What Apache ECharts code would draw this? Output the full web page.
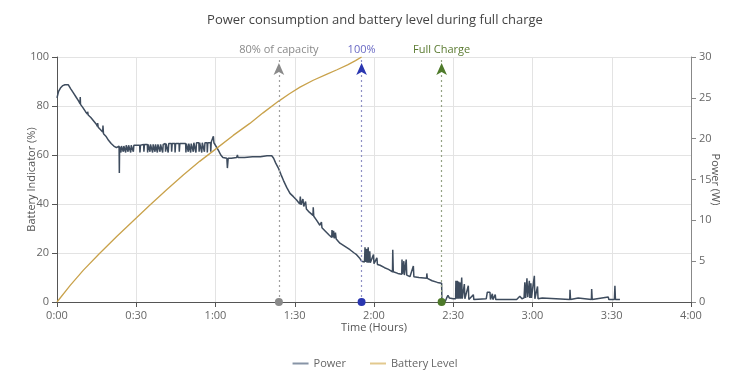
<!DOCTYPE html>
<html>
<head>
<meta charset="utf-8">
<script src="https://cdn.jsdelivr.net/npm/echarts@6/dist/echarts.min.js"></script>
<style>html,body{margin:0;padding:0;background:#fff}#c{width:750px;height:392px}</style>
</head>
<body>
<div id="c"></div>
<script>
// ---- data (x in minutes since start) ----
const xTickLabels = ['0:00','0:30','1:00','1:30','2:00','2:30','3:00','3:30','4:00'];

const batteryTime  = [0, 5, 10, 16, 22.6, 29, 35.2, 41.5, 47.8, 54, 60.4, 66.7, 73, 78, 83.8, 88, 92, 97, 102, 106, 110, 113, 115.3];
const batteryLevel = [0, 6.8, 13, 19.7, 26.7, 33.3, 39.6, 45.8, 51.8, 57.4, 62.7, 68, 72.9, 77.2, 81.9, 85.0, 87.7, 90.5, 92.9, 94.8, 96.8, 98.5, 100];

const powerRamp = [
 [0,25.0],[0.6,25.8],[1.3,26.2],[2.2,26.5],[3,26.6],[4.3,26.6],[5.2,26.1],[6.2,25.6],[7.2,25.1],[8.2,24.6],
 [8.7,24.3],[8.8,25.1],[8.9,24.2],[9.8,23.8],[10.8,23.3],[11.5,23.0],[11.6,23.3],[11.8,22.9],[12.8,22.6],
 [13.8,22.2],[14.8,21.8],[15.3,21.5],[15.4,21.9],[15.6,21.4],[16.5,21.1],[17.3,20.8],[17.4,21.6],[17.6,20.6],
 [18.5,20.3],[19.5,19.8],[20.5,19.4],[21.5,19.1],[22.5,18.9],[23.2,19.0]
];
const powerBand = [
 [23.5,19.1],[23.6,15.8],[23.7,19.0],
 [24.1,19.1],[24.2,18.3],[24.4,19.1],[25.0,19.1],[25.1,18.4],[25.3,19.1],[25.9,19.2],[26.0,18.3],[26.2,19.2],
 [26.8,19.2],[26.9,18.4],[27.1,19.2],[27.8,19.2],[27.9,18.3],[28.1,19.2],[28.8,19.2],[28.9,18.4],[29.1,19.2],
 [31.3,19.2],[31.4,18.3],[31.6,19.2],[32.8,19.3],[32.9,18.4],[33.1,19.3],[34.2,19.3],[34.3,18.3],[34.5,19.3],
 [35.1,19.3],[35.2,18.4],[35.4,19.3],[36.1,19.3],[36.2,18.3],[36.4,19.3],[37.0,19.3],[37.1,18.4],[37.3,19.3],
 [37.9,19.3],[38.0,18.3],[38.2,19.3],[38.9,19.3],[39.0,18.4],[39.2,19.3],[39.9,19.3],[40.0,18.3],[40.2,19.3],
 [41.0,19.4],[41.1,18.4],[41.3,19.4],[42.0,19.4],[42.1,18.3],[42.3,19.4],[43.3,19.4],[43.4,18.4],[43.6,19.4],
 [44.6,19.4],[44.7,18.3],[44.9,19.4],[46.2,19.4],[46.3,18.4],[46.5,19.4],[48.7,19.4],[48.8,18.3],[49.0,19.4],
 [49.6,19.4],[49.7,18.4],[49.9,19.4],[50.5,19.4],[50.6,18.3],[50.8,19.4],[51.5,19.5],[51.6,18.4],[51.8,19.5],
 [52.5,19.5],[52.6,18.3],[52.8,19.5],[53.7,19.5],[53.8,18.4],[54.0,19.5],[54.7,19.5],[54.8,18.3],[55.0,19.5],
 [55.7,19.5],[55.8,18.4],[56.0,19.5],[56.8,19.5],[56.9,18.3],[57.1,19.5],[58.1,19.5],[58.2,18.4],[58.4,19.6],
 [59.0,19.6],[59.2,20.3],[59.4,19.5]
];
const powerPlateau = [
 [59.9,19.3],[60.5,18.9],[61.2,18.5],[62,18.0],[62.8,17.7],[64.3,17.6],[64.5,16.4],[64.8,17.6],[66,17.6],
 [68,17.7],[68.3,18.0],[68.5,17.7],[71,17.7],[74,17.8],[77,17.8],[79.5,17.9],[81.3,17.9],[82,17.6]
];
const powerTaper = [
 [82.8,17.0],[83.8,16.4],[84.8,15.6],[85.7,14.9],[87,14.0],[88.2,13.3],[89.5,12.9],[90.7,12.5],[91.9,12.0],
 [92.1,12.9],[92.4,11.9],[92.9,11.8],[93.1,12.6],[93.4,11.7],[93.9,11.5],[94.1,12.3],[94.4,11.4],[95.5,11.0],
 [96.9,10.6],[97.0,11.6],[97.2,10.5],[98.3,10.0],[99.5,9.4],[100.0,9.2],[100.1,9.8],[100.3,9.1],[101.5,8.7],
 [103,8.2],[104,7.9],[104.1,8.8],[104.4,7.9],[104.7,8.7],[105,7.8],[105.4,8.5],[105.7,7.7],[107.1,7.2],
 [109,6.8],[110.9,6.4],[112.5,6.0],[113.4,5.8],[114.5,5.4],[115.3,5.0],
 [116.4,4.9],[116.6,6.7],[116.8,4.9],[117.2,6.5],[117.4,4.8],[117.8,6.7],[118,4.8],[118.4,6.2],[118.6,4.8],
 [119.8,5.8],[120.0,4.7],[121.1,5.4],[121.3,4.6],[122.3,4.5],[124,4.2],[125.5,4.0],[127,3.7],[127.1,6.4],
 [127.3,3.7],[129,3.5],[130.5,3.4],[130.6,5.2],[130.8,3.4],[131.3,5.0],[131.5,3.3],[132.2,5.2],[132.4,3.3],
 [133.6,3.1],[134.9,4.4],[135.1,3.1],[137,3.0],[139.9,2.9],[140,3.5],[140.2,2.9],[142,2.6],[144,2.4],[145.6,2.3]
];
const powerIdle = [
 [145.7,0.1],[147,0.1],[147.5,0.5],[148,0.8],[148.5,0.5],[149,0.6],[150,0.4],[150.9,0.4],[151,2.6],[151.2,0.4],
 [151.5,2.6],[151.7,0.4],[152,2.5],[152.2,0.4],[152.6,2.4],[152.8,0.4],[153.2,3.0],[153.4,0.4],[154.2,2.2],
 [154.4,0.4],[155.7,2.0],[155.9,0.3],[157.6,0.9],[157.8,0.3],[162.5,0.4],[162.9,1.2],[163.3,1.1],[163.9,1.2],
 [164.1,0.3],[164.8,1.0],[165,0.3],[165.9,0.9],[166.1,0.3],[174,0.3],[175.2,0.7],[176,0.4],[176.8,0.5],
 [177.1,2.4],[177.4,0.5],[177.9,2.9],[178.2,0.6],[178.8,2.6],[179.0,0.5],[179.4,2.3],[179.6,0.5],[180.7,3.2],
 [180.9,0.4],[181.9,1.9],[182.1,0.4],[183.7,0.5],[184,0.3],[194.1,0.3],[194.2,1.5],[194.4,0.3],[197.3,0.5],
 [197.5,0.3],[202.3,0.3],[202.4,1.6],[202.6,0.3],[208.7,0.6],[208.9,0.3],[211,0.3],[211.2,2.0],[211.4,0.3],[213.1,0.3]
];

const markTimes  = [84, 115.3, 145.6];
const markLabels = ['80% of capacity', '100%', 'Full Charge'];
const markSymbolColors = ['#8a8a8a', '#2a36b0', '#4e7a2a'];
const markLineColors = ['#a0a0a0', '#8e90c4', '#94a284'];
const markLabelColors = ['#8a8a8a', '#6a6ac4', '#5a7a30'];

// ---- chart ----
const powerData = [].concat(powerRamp, powerBand, powerPlateau, powerTaper, powerIdle);
const batteryData = batteryTime.map((t, i) => [t, batteryLevel[i]]);
const FONT = '"Open Sans", sans-serif';

const markPoints = [];
markTimes.forEach((t, i) => {
  markPoints.push({coord: [t, 0], symbol: 'circle', symbolSize: 8, itemStyle: {color: markSymbolColors[i]}});
  markPoints.push({coord: [t, 100], symbol: 'arrow', symbolSize: [8, 12], symbolOffset: [0, '50%'], itemStyle: {color: markSymbolColors[i]}});
});

const chart = echarts.init(document.getElementById('c'), null, {renderer: 'canvas'});
chart.setOption({
  animation: false,
  textStyle: {fontFamily: FONT},
  title: {
    text: 'Power consumption and battery level during full charge',
    left: 'center', top: 9,
    textStyle: {fontSize: 13, fontWeight: 'normal', color: '#444', fontFamily: FONT}
  },
  legend: {
    bottom: 18, left: 'center', itemWidth: 16, itemHeight: 2, itemGap: 24,
    icon: 'rect',
    textStyle: {fontSize: 11, color: '#666'},
    data: [
      {name: 'Power', itemStyle: {color: '#8794a6'}},
      {name: 'Battery Level', itemStyle: {color: '#e2c98e'}}
    ]
  },
  grid: {left: 57, right: 59, top: 57, bottom: 90},
  xAxis: {
    type: 'value', min: 0, max: 240, interval: 30,
    name: 'Time (Hours)', nameLocation: 'middle', nameGap: 20, nameMoveOverlap: false,
    nameTextStyle: {fontSize: 11, color: '#555'},
    axisLine: {show: true, lineStyle: {color: '#555'}},
    axisTick: {show: true, lineStyle: {color: '#555'}},
    axisLabel: {fontSize: 11, color: '#666', formatter: v => xTickLabels[Math.round(v / 30)]},
    splitLine: {show: true, lineStyle: {color: '#e3e3e3'}}
  },
  yAxis: [{
    type: 'value', min: 0, max: 100, interval: 20,
    name: 'Battery Indicator (%)', nameLocation: 'middle', nameGap: 20, nameMoveOverlap: false,
    nameTextStyle: {fontSize: 11, color: '#555'},
    axisLine: {show: true, lineStyle: {color: '#555'}},
    axisTick: {show: true, lineStyle: {color: '#555'}},
    axisLabel: {fontSize: 11, color: '#666'},
    splitLine: {show: true, lineStyle: {color: '#e3e3e3'}}
  }, {
    type: 'value', min: 0, max: 30, interval: 5, position: 'right',
    name: 'Power (W)', nameLocation: 'middle', nameGap: 19, nameRotate: -90, nameMoveOverlap: false,
    nameTextStyle: {fontSize: 11, color: '#555'},
    axisLine: {show: true, lineStyle: {color: '#888'}},
    axisTick: {show: true, lineStyle: {color: '#888'}},
    axisLabel: {fontSize: 11, color: '#666'},
    splitLine: {show: false}
  }],
  series: [{
    name: 'Power', type: 'line', yAxisIndex: 1, symbol: 'none',
    color: '#3e4c5e',
    lineStyle: {color: '#3e4c5e', width: 1.5},
    data: powerData
  }, {
    name: 'Battery Level', type: 'line', yAxisIndex: 0, symbol: 'none',
    color: '#c9a24b',
    lineStyle: {color: '#c9a24b', width: 1.3},
    data: batteryData,
    markLine: {
      silent: true,
      symbol: ['none', 'none'],
      data: markTimes.map((t, i) => ({
        xAxis: t,
        lineStyle: {color: markLineColors[i], type: [2, 3], width: 1.2},
        label: {formatter: markLabels[i], color: markLabelColors[i], fontSize: 11, position: 'end', distance: 2}
      }))
    },
    markPoint: {
      silent: true,
      label: {show: false},
      data: markPoints
    }
  }]
});
</script>
</body>
</html>
